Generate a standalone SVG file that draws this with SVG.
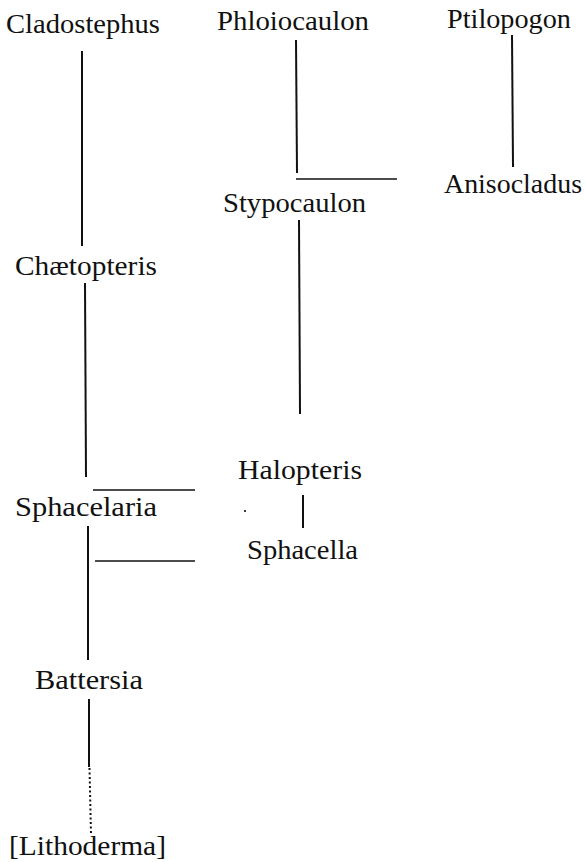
<svg xmlns="http://www.w3.org/2000/svg" width="585" height="862" viewBox="0 0 585 862">
<style>
text{font-family:"Liberation Serif","Times New Roman",serif;font-size:27px;fill:#111}
.c line{stroke:#111;stroke-width:2;fill:none}
.c line.h{stroke-width:1.6}
.c line.d{stroke-dasharray:2 2.5}
</style>
<rect width="585" height="862" fill="#fff"/>
<g class="c" id="connectors">
<line x1="82" y1="51" x2="82" y2="246"/>
<line x1="85" y1="283" x2="86" y2="477"/>
<line class="h" x1="93" y1="490" x2="195" y2="490"/>
<line x1="88" y1="526" x2="88" y2="660"/>
<line class="h" x1="95" y1="561" x2="195" y2="561"/>
<line x1="89" y1="699" x2="89" y2="767"/>
<line class="d" x1="89.5" y1="768" x2="91" y2="834"/>
<line x1="296" y1="40" x2="297" y2="173"/>
<line class="h" x1="296" y1="179" x2="397" y2="179"/>
<line x1="512" y1="35" x2="513" y2="167"/>
<line x1="299" y1="220" x2="300" y2="414"/>
<line x1="303" y1="495" x2="303" y2="528"/>
<circle cx="245" cy="511" r="1.1" fill="#111"/>
</g>
<g id="cladostephus"><text x="6" y="33" textLength="154" lengthAdjust="spacingAndGlyphs">Cladostephus</text></g>
<g id="phloiocaulon"><text x="217" y="30" textLength="152" lengthAdjust="spacingAndGlyphs">Phloiocaulon</text></g>
<g id="ptilopogon"><text x="447" y="28" textLength="124" lengthAdjust="spacingAndGlyphs">Ptilopogon</text></g>
<g id="anisocladus"><text x="444" y="193" textLength="138" lengthAdjust="spacingAndGlyphs">Anisocladus</text></g>
<g id="stypocaulon"><text x="223" y="212" textLength="143" lengthAdjust="spacingAndGlyphs">Stypocaulon</text></g>
<g id="chaetopteris"><text x="15" y="275" textLength="142" lengthAdjust="spacingAndGlyphs">Chætopteris</text></g>
<g id="halopteris"><text x="238" y="479" textLength="124" lengthAdjust="spacingAndGlyphs">Halopteris</text></g>
<g id="sphacelaria"><text x="15" y="516" textLength="142" lengthAdjust="spacingAndGlyphs">Sphacelaria</text></g>
<g id="sphacella"><text x="247" y="559" textLength="111" lengthAdjust="spacingAndGlyphs">Sphacella</text></g>
<g id="battersia"><text x="35" y="689" textLength="108" lengthAdjust="spacingAndGlyphs">Battersia</text></g>
<g id="lithoderma"><text x="9" y="855" textLength="157" lengthAdjust="spacingAndGlyphs">[Lithoderma]</text></g>
</svg>
